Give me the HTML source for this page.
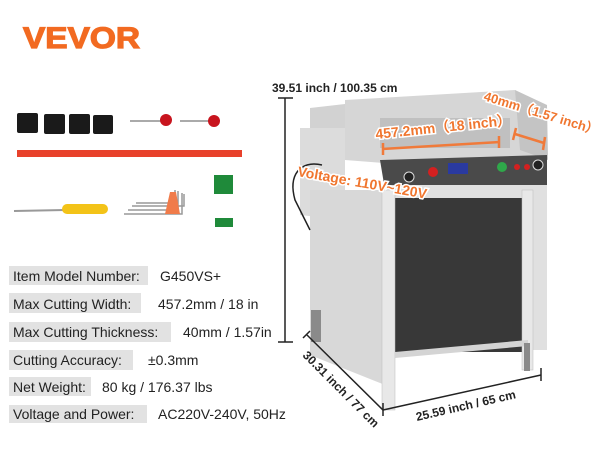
<!DOCTYPE html>
<html><head><meta charset="utf-8"><style>
body{margin:0;background:#fff;width:600px;height:450px;overflow:hidden;font-family:"Liberation Sans",sans-serif}
</style></head><body>
<svg width="600" height="450" viewBox="0 0 600 450" xmlns="http://www.w3.org/2000/svg" font-family="Liberation Sans, sans-serif">
<rect width="600" height="450" fill="#fff"/>
<text x="23" y="48" font-size="30" font-weight="bold" fill="#f26a21" stroke="#f26a21" stroke-width="1.2" textLength="117" lengthAdjust="spacingAndGlyphs">VEVOR</text>
<g fill="#1a1a1a"><rect x="17" y="113" width="21" height="20" rx="2"/><rect x="44" y="114" width="21" height="20" rx="2"/><rect x="69" y="114" width="21" height="20" rx="2"/><rect x="93" y="115" width="20" height="19" rx="2"/></g>
<line x1="130" y1="121" x2="165" y2="121" stroke="#aaa" stroke-width="2"/><circle cx="166" cy="120" r="6" fill="#c8141e"/>
<line x1="180" y1="121" x2="212" y2="121" stroke="#aaa" stroke-width="2"/><circle cx="214" cy="121" r="6" fill="#c8141e"/>
<rect x="17" y="150" width="225" height="7" fill="#e8412b"/>
<line x1="14" y1="211" x2="65" y2="210" stroke="#999" stroke-width="2"/><rect x="62" y="204" width="46" height="10" rx="5" fill="#f3c318"/>
<g stroke="#999" stroke-width="1.5" fill="none"><path d="M124 214 H182 V193"/><path d="M128 210 H178 V191"/><path d="M132 206 H184 V194"/><path d="M136 203 H175 V190"/></g>
<polygon points="165,214 170,192 176,192 180,214" fill="#f07b4a"/>
<rect x="214" y="175" width="19" height="19" fill="#1f8a3a"/><rect x="215" y="218" width="18" height="9" fill="#1f8a3a"/>
<g fill="#e2e2e2"><rect x="9" y="266" width="139" height="19"/><rect x="9" y="293" width="132" height="20"/><rect x="9" y="322" width="162" height="20"/><rect x="9" y="350" width="124" height="20"/><rect x="9" y="377" width="82" height="19"/><rect x="9" y="405" width="138" height="18"/></g>
<g font-size="14" fill="#222">
<text x="13" y="281">Item Model Number:</text><text x="160" y="281">G450VS+</text>
<text x="13" y="309">Max Cutting Width:</text><text x="158" y="309">457.2mm / 18 in</text>
<text x="13" y="337">Max Cutting Thickness:</text><text x="183" y="337">40mm / 1.57in</text>
<text x="13" y="365">Cutting Accuracy:</text><text x="148" y="365">±0.3mm</text>
<text x="13" y="392">Net Weight:</text><text x="102" y="392">80 kg / 176.37 lbs</text>
<text x="13" y="419">Voltage and Power:</text><text x="158" y="419">AC220V-240V, 50Hz</text>
</g>
<polygon points="310,108 345,104 345,200 310,200" fill="#d2d2d2"/>
<polygon points="300,128 345,128 345,220 300,215" fill="#dcdcdc"/>
<polygon points="345,100 515,90 545,110 547,160 383,163 345,160" fill="#d6d6d6"/>
<polygon points="515,90 547,105 548,160 520,150" fill="#c4c4c4"/>
<rect x="380" y="118" width="130" height="30" fill="#c0c0c0"/>
<polygon points="380,160 547,155 547,185 385,190" fill="#4a4a4a"/>
<rect x="448" y="163" width="20" height="11" fill="#2a3aa0"/>
<circle cx="433" cy="172" r="5" fill="#d42020"/><circle cx="502" cy="167" r="5" fill="#2fa84a"/><circle cx="517" cy="167" r="3" fill="#d42020"/><circle cx="527" cy="167" r="3" fill="#d42020"/><circle cx="409" cy="177" r="5" fill="#222" stroke="#ddd"/><circle cx="538" cy="165" r="5" fill="#222" stroke="#ddd"/>
<polygon points="310,190 385,190 385,385 310,355" fill="#d8d8d8"/>
<rect x="385" y="185" width="162" height="165" fill="#e0e0e0"/>
<rect x="395" y="198" width="133" height="154" fill="#383838"/>
<rect x="382" y="190" width="13" height="220" fill="#e8e8e8" stroke="#bbb" stroke-width="0.5"/>
<rect x="522" y="190" width="11" height="180" fill="#e8e8e8" stroke="#bbb" stroke-width="0.5"/>
<polygon points="395,352 528,340 528,346 395,358" fill="#d4d4d4"/>
<rect x="311" y="310" width="10" height="32" fill="#8a8a8a"/><rect x="524" y="343" width="6" height="28" fill="#8a8a8a"/>
<path d="M322 165 C300 160 288 175 295 200 L310 230" stroke="#222" stroke-width="1.5" fill="none"/>
<g stroke="#222" stroke-width="1.5" fill="none">
<line x1="285" y1="98" x2="285" y2="342"/><line x1="278" y1="98" x2="293" y2="98"/><line x1="278" y1="342" x2="293" y2="342"/>
<line x1="307" y1="335" x2="383" y2="410"/><line x1="303" y1="338" x2="310" y2="331"/><line x1="383" y1="403" x2="383" y2="416"/>
<line x1="383" y1="410" x2="541" y2="375"/><line x1="541" y1="368" x2="541" y2="381"/>
</g>
<g font-size="12" font-weight="bold" fill="#222">
<text x="272" y="92">39.51 inch / 100.35 cm</text>
<text transform="translate(302,356) rotate(45)">30.31 inch / 77 cm</text>
<text transform="translate(417,421) rotate(-13)">25.59 inch / 65 cm</text>
</g>
<g stroke="#f07a3a" stroke-width="2.5"><line x1="382" y1="149" x2="500" y2="142"/><line x1="383" y1="143" x2="383" y2="155"/><line x1="499" y1="136" x2="499" y2="148"/>
<line x1="515" y1="134" x2="544" y2="143"/><line x1="516" y1="128" x2="513" y2="140"/><line x1="545" y1="137" x2="543" y2="150"/></g>
<g font-size="14" font-weight="bold" fill="#f0762f" stroke="#fff" stroke-width="3" paint-order="stroke">
<text transform="translate(376,139) rotate(-6)">457.2mm（18 inch）</text>
<text transform="translate(483,100) rotate(17)" font-size="13">40mm（1.57 inch）</text>
<text transform="translate(297,176) rotate(10)">Voltage: 110V~120V</text>
</g>
</svg>
</body></html>
